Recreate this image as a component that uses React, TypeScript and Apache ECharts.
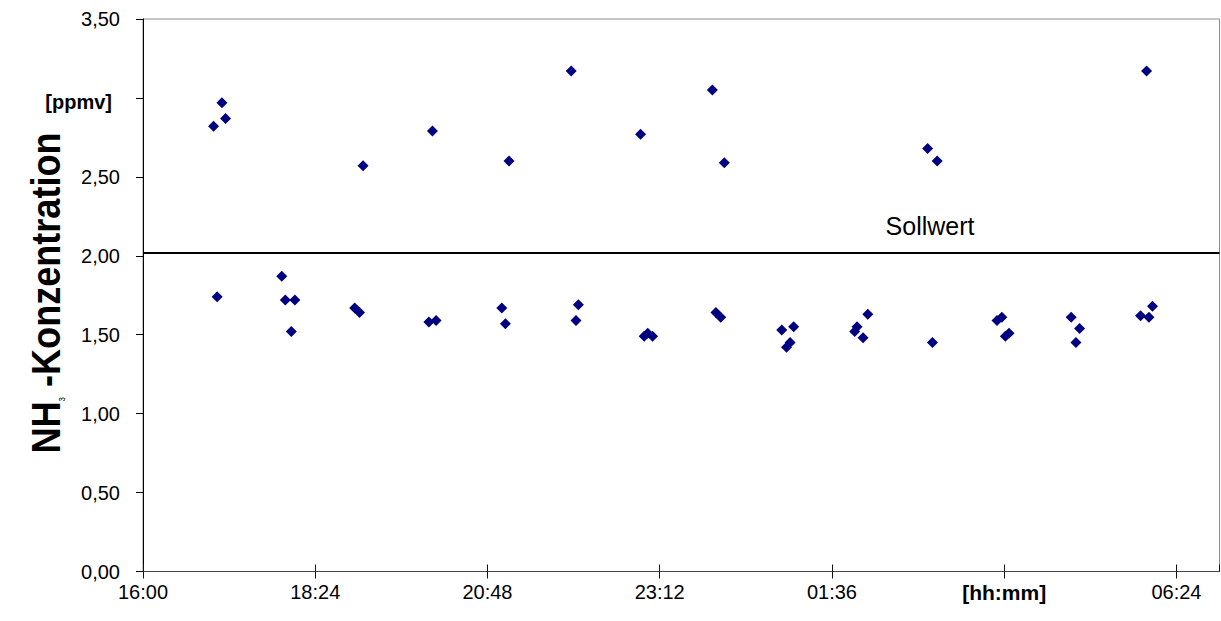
import React, { useEffect, useRef } from "react";
import * as echarts from "echarts";

// time in minutes after 16:00, NH3 concentration in ppmv
const times = [
  59, 66, 69, 184, 242, 306, 358, 416, 476, 486, 656, 664, 839,
  62, 116, 119, 127, 124, 177, 181, 239, 245, 300, 303, 364, 362,
  419, 422, 426, 479, 483, 534, 544, 538, 541, 606, 597, 595, 602,
  660, 714, 718, 721, 724, 776, 783, 780, 834, 841, 844,
];
const values = [
  2.82, 2.97, 2.87, 2.57, 2.79, 2.6, 3.17, 2.77, 3.05, 2.59, 2.68, 2.6, 3.17,
  1.74, 1.87, 1.72, 1.72, 1.52, 1.67, 1.64, 1.58, 1.59, 1.67, 1.57, 1.69, 1.59,
  1.49, 1.51, 1.49, 1.64, 1.61, 1.53, 1.55, 1.42, 1.45, 1.63, 1.55, 1.52, 1.48,
  1.45, 1.59, 1.61, 1.49, 1.51, 1.61, 1.54, 1.45, 1.62, 1.61, 1.68,
];
const SOLLWERT = 2.025;
const SOLL_LABEL_X = 658;
const X_MAX = 900;
const X_INTERVAL = 144;
const UNIT_X_TICK = 720;
const UNIT_Y_TICK = 3;

const fontReg = "'Liberation Sans', Arial, sans-serif";

function fmtTime(v: number): string {
  if (v === UNIT_X_TICK) return "{b|[hh:mm]}";
  if (v >= X_MAX) return "";
  const t = (16 * 60 + v) % 1440;
  const h = Math.floor(t / 60);
  const m = Math.round(t % 60);
  return String(h).padStart(2, "0") + ":" + String(m).padStart(2, "0");
}

export default function App() {
  const ref = useRef<HTMLDivElement>(null);
  useEffect(() => {
    if (!ref.current) return;
    const chart = echarts.init(ref.current, null, { renderer: "svg" });
    const data = times.map((t, i) => [t, values[i]]);
    chart.setOption({
      animation: false,
      backgroundColor: "#fff",
      grid: {
        left: 143,
        right: 1.5,
        top: 19,
        bottom: 49.5,
        show: true,
        borderColor: "#8a8a8a",
        borderWidth: 1,
      },
      xAxis: [
        {
          type: "value",
          min: 0,
          max: X_MAX,
          interval: X_INTERVAL,
          position: "bottom",
          axisLine: { lineStyle: { color: "#444", width: 1 } },
          axisTick: { show: true, length: 7, lineStyle: { color: "#111" } },
          splitLine: { show: false },
          axisLabel: {
            showMaxLabel: false,
            margin: 10,
            color: "#000",
            fontSize: 20,
            fontFamily: fontReg,
            formatter: fmtTime,
            rich: {
              b: { fontSize: 21, fontWeight: "bold", fontFamily: fontReg, color: "#000" },
            },
          },
        },
        {
          type: "value",
          min: 0,
          max: X_MAX,
          interval: X_INTERVAL,
          position: "bottom",
          axisLine: { show: false },
          axisTick: { show: true, inside: true, length: 7, lineStyle: { color: "#111" } },
          splitLine: { show: false },
          axisLabel: { show: false },
        },
      ],
      yAxis: {
        type: "value",
        min: 0,
        max: 3.5,
        interval: 0.5,
        axisLine: { show: true, lineStyle: { color: "#000", width: 1 } },
        axisTick: { show: true, length: 7, lineStyle: { color: "#000" } },
        splitLine: { show: false },
        axisLabel: {
          margin: 23,
          color: "#000",
          fontSize: 20,
          fontFamily: fontReg,
          formatter: (v: number) =>
            Math.abs(v - UNIT_Y_TICK) < 1e-9 ? "{b|[ppmv]}" : v.toFixed(2).replace(".", ","),
          rich: {
            b: {
              fontSize: 20,
              fontWeight: "bold",
              fontFamily: fontReg,
              color: "#000",
              padding: [8, 8, 0, 0],
            },
          },
        },
      },
      series: [
        {
          type: "scatter",
          xAxisIndex: 0,
          yAxisIndex: 0,
          data,
          symbol: "diamond",
          symbolSize: [11, 11],
          itemStyle: { color: "#000080", opacity: 1 },
          markLine: {
            silent: true,
            symbol: ["none", "none"],
            label: { show: false },
            lineStyle: { color: "#000", width: 2, type: "solid", opacity: 1 },
            data: [{ yAxis: SOLLWERT }],
          },
        },
      ],
    });
    const p = chart.convertToPixel({ xAxisIndex: 0, yAxisIndex: 0 }, [SOLL_LABEL_X, SOLLWERT]) as number[];
    chart.setOption({
      graphic: [
        {
          type: "text",
          x: p[0],
          y: p[1] - 13,
          style: {
            text: "Sollwert",
            fontSize: 25,
            fontFamily: fontReg,
            fill: "#000",
            textAlign: "center",
            textVerticalAlign: "bottom",
          },
        },
        {
          type: "text",
          x: 43,
          y: 293,
          rotation: Math.PI / 2,
          scaleX: 0.88,
          scaleY: 1,
          style: {
            text: "{a|NH}{s|3}{a| -Konzentration}",
            textAlign: "center",
            textVerticalAlign: "middle",
            fill: "#000",
            rich: {
              a: { fontSize: 41, fontWeight: "bold", fontFamily: fontReg, lineHeight: 47, verticalAlign: "bottom" },
              s: { fontSize: 9, fontFamily: fontReg, lineHeight: 10, verticalAlign: "bottom" },
            },
          },
        },
      ],
    });
    return () => chart.dispose();
  }, []);
  return (
    <div
      ref={ref}
      style={{ position: "absolute", left: 0, top: 0, width: 1221, height: 621 }}
    />
  );
}
